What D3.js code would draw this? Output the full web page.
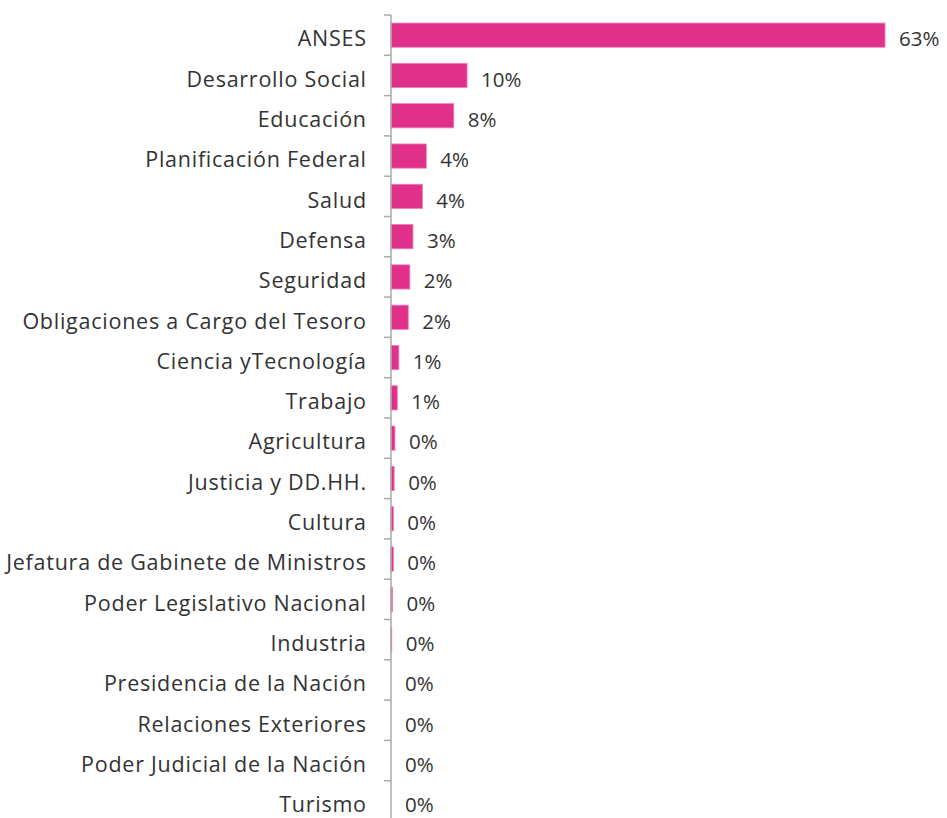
<!DOCTYPE html>
<html><head><meta charset="utf-8">
<script src="https://cdn.jsdelivr.net/npm/d3@7"></script>
<style>body{margin:0;background:#fff}svg{display:block}</style>
</head><body><svg id="c" width="947" height="818"></svg>
<script>
const categories = ["ANSES","Desarrollo Social","Educación","Planificación Federal","Salud","Defensa","Seguridad","Obligaciones a Cargo del Tesoro","Ciencia yTecnología","Trabajo","Agricultura","Justicia y DD.HH.","Cultura","Jefatura de Gabinete de Ministros","Poder Legislativo Nacional","Industria","Presidencia de la Nación","Relaciones Exteriores ","Poder Judicial de la Nación","Turismo"];
const values = [63, 9.7, 8.0, 4.5, 4.0, 2.8, 2.4, 2.2, 1.0, 0.8, 0.5, 0.4, 0.3, 0.3, 0.2, 0.1, 0, 0, 0, 0];
const valueLabels = ["63%","10%","8%","4%","4%","3%","2%","2%","1%","1%","0%","0%","0%","0%","0%","0%","0%","0%","0%","0%"];

(function () {
const svg = d3.select("#c");
const x0 = 391, yTop = 15, step = 40.3;
const x = d3.scaleLinear().domain([0, 63]).range([x0, 885]);
const y = d3.scaleBand().domain(categories).range([yTop, yTop + step * categories.length]).paddingInner(0.4).paddingOuter(0.2);

svg.append("g").selectAll("rect").data(categories).join("rect")
  .attr("x", x(0)).attr("y", d => y(d))
  .attr("width", (d, i) => x(values[i]) - x(0))
  .attr("height", y.bandwidth())
  .attr("fill", "#e0308a").attr("stroke", "#f07ab8").attr("stroke-width", 0.8);

const ax = svg.append("g").attr("transform", `translate(${x0},0)`);
ax.append("line").attr("x1", 0).attr("x2", 0).attr("y1", yTop).attr("y2", 818).attr("stroke", "#aaa").attr("stroke-width", 1.5);
ax.selectAll("line.t").data(d3.range(categories.length)).join("line").attr("class", "t")
  .attr("x1", -7).attr("x2", 0).attr("y1", i => yTop + step * i).attr("y2", i => yTop + step * i)
  .attr("stroke", "#aaa").attr("stroke-width", 1.5);

svg.append("g").selectAll("text").data(categories).join("text")
  .attr("x", 366.8).attr("y", d => y(d) + y.bandwidth() / 2 + 11.3)
  .attr("text-anchor", "end").attr("font-family", "'Open Sans', sans-serif").attr("font-size", 21.5)
  .attr("letter-spacing", 0.75)
  .attr("fill", "#333").text(d => d.trim());

svg.append("g").selectAll("text").data(categories).join("text")
  .attr("x", (d, i) => x(values[i]) + 14).attr("y", d => y(d) + y.bandwidth() / 2 + 11.3)
  .attr("font-family", "'Open Sans', sans-serif").attr("font-size", 20.5)
  .attr("fill", "#333").text((d, i) => valueLabels[i]);
})();
</script></body></html>
